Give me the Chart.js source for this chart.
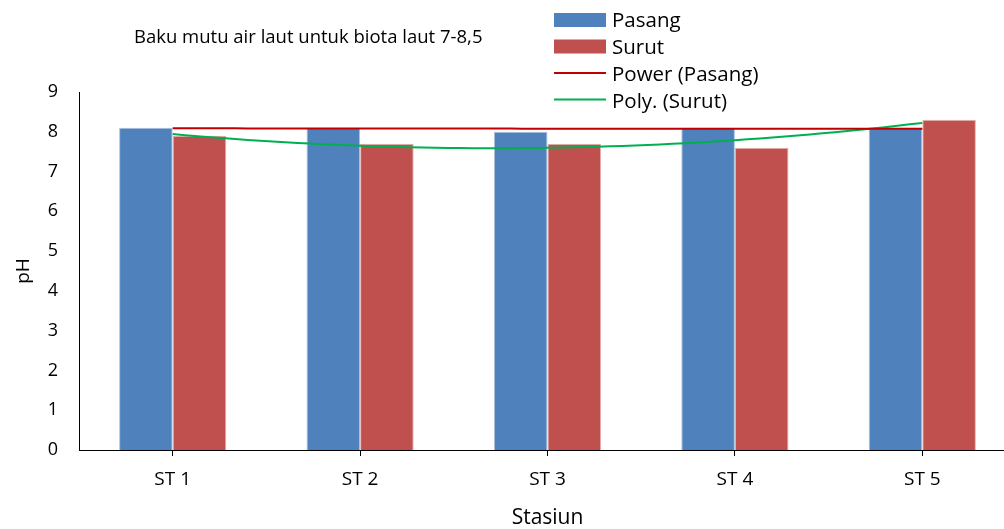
<!DOCTYPE html>
<html><head><meta charset="utf-8">
<script src="https://cdn.jsdelivr.net/npm/chart.js@4"></script>
<style>html,body{margin:0;padding:0;overflow:hidden;background:#fff}#wrap{width:1016px;height:529px}</style>
</head><body><div id="wrap"><canvas id="c" width="1016" height="529"></canvas></div>
<script>
const categories = ["ST 1","ST 2","ST 3","ST 4","ST 5"];
const pasang = [8.1, 8.1, 8.0, 8.1, 8.1];
const surut = [7.9, 7.7, 7.7, 7.6, 8.3];
const yTickMin = 0, yTickMax = 9, yTickStep = 1;
const chartTitle = "Baku mutu air laut untuk biota laut 7-8,5";
const legendLabels = ["Pasang","Surut","Power (Pasang)","Poly. (Surut)"];
const xTitle = "Stasiun", yTitle = "pH";

// power trendline y = a*x^b (least squares on logs)
function powerFit(ys){const n=ys.length;let sx=0,sy=0,sxx=0,sxy=0;for(let i=0;i<n;i++){const lx=Math.log(i+1),ly=Math.log(ys[i]);sx+=lx;sy+=ly;sxx+=lx*lx;sxy+=lx*ly;}const b=(n*sxy-sx*sy)/(n*sxx-sx*sx);const a=Math.exp((sy-b*sx)/n);return x=>a*Math.pow(x,b);}
// quadratic trendline (least squares)
function polyFit(ys){const n=ys.length;let S=[0,0,0,0,0],T=[0,0,0];for(let i=0;i<n;i++){const x=i+1;for(let k=0;k<5;k++)S[k]+=Math.pow(x,k);for(let k=0;k<3;k++)T[k]+=ys[i]*Math.pow(x,k);}
const M=[[S[0],S[1],S[2],T[0]],[S[1],S[2],S[3],T[1]],[S[2],S[3],S[4],T[2]]];
for(let c=0;c<3;c++){for(let r=c+1;r<3;r++){const f=M[r][c]/M[c][c];for(let k=c;k<4;k++)M[r][k]-=f*M[c][k];}}
const co=[0,0,0];for(let r=2;r>=0;r--){let s=M[r][3];for(let k=r+1;k<3;k++)s-=M[r][k]*co[k];co[r]=s/M[r][r];}
return x=>co[0]+co[1]*x+co[2]*x*x;}
function sample(f,n){const pts=[];for(let i=0;i<=60;i++){const x=1+(n-1)*i/60;pts.push({x:x,y:f(x)});}return pts;}
const powerLine = sample(powerFit(pasang), pasang.length);
const polyLine = sample(polyFit(surut), surut.length);
const toXY = arr => arr.map((v,i)=>({x:i+1,y:v}));

const FONT = "'Open Sans', sans-serif";
const colors = {pasang:"#4F81BD", surut:"#C0504D", power:"#C00000", poly:"#00B050"};

const overlay = {
  id:'overlay',
  afterDraw(chart){
    const ctx=chart.ctx;ctx.save();
    ctx.fillStyle="#000";ctx.textBaseline="alphabetic";ctx.textAlign="left";
    ctx.font="18.5px "+FONT;ctx.fillText(chartTitle,134,43);
    const base=[27.3,54,81,107.7];
    const mid=[20,46.5,73,99.5];
    const sw=[colors.pasang,colors.surut,colors.power,colors.poly];
    ctx.font="20.5px "+FONT;
    for(let i=0;i<4;i++){
      if(i<2){ctx.fillStyle=sw[i];ctx.fillRect(554,mid[i]-7,52,14);}
      else{ctx.strokeStyle=sw[i];ctx.lineWidth=2;ctx.beginPath();ctx.moveTo(554,mid[i]);ctx.lineTo(606,mid[i]);ctx.stroke();}
      ctx.fillStyle="#000";ctx.fillText(legendLabels[i],612,base[i]);
    }
    ctx.restore();
  }
};

new Chart(document.getElementById('c'),{
  type:'bar',
  data:{
    datasets:[
      {type:'line',label:legendLabels[2],data:powerLine,borderColor:colors.power,borderWidth:2,pointRadius:0,tension:0,order:0},
      {type:'line',label:legendLabels[3],data:polyLine,borderColor:colors.poly,borderWidth:2,pointRadius:0,tension:0,order:0},
      {type:'bar',label:legendLabels[0],data:toXY(pasang),backgroundColor:colors.pasang,borderColor:"#A9C0DE",borderWidth:1,order:1},
      {type:'bar',label:legendLabels[1],data:toXY(surut),backgroundColor:colors.surut,borderColor:"#E3B2B0",borderWidth:1,order:1}
    ]
  },
  options:{
    responsive:false,animation:false,devicePixelRatio:1,
    datasets:{bar:{categoryPercentage:0.572,barPercentage:1}},
    layout:{padding:{top:92,left:0,right:0,bottom:0}},
    plugins:{legend:{display:false},tooltip:{enabled:false},title:{display:false}},
    scales:{
      x:{type:'linear',min:0.5,max:categories.length+0.5,offset:false,
        afterBuildTicks(s){s.ticks=categories.map((c,i)=>({value:i+1}));},
        grid:{offset:false,drawOnChartArea:false,drawTicks:true,tickLength:6,color:"#000"},
        border:{color:"#000",width:1},
        ticks:{color:"#000",font:{family:FONT,size:19},padding:12,autoSkip:false,maxRotation:0,
          callback:(v)=>categories[Math.round(v)-1]},
        title:{display:true,text:xTitle,color:"#000",font:{family:FONT,size:21,lineHeight:1},padding:{top:0,bottom:0}},
        afterFit(s){s.height=79;}
      },
      y:{min:yTickMin,max:yTickMax,
        ticks:{stepSize:yTickStep,color:"#000",font:{family:FONT,size:18},padding:21},
        grid:{display:false,drawTicks:false},
        border:{color:"#000",width:1},
        title:{display:true,text:yTitle,color:"#000",font:{family:FONT,size:19},padding:{top:12,bottom:0}},
        afterFit(s){s.width=79;}
      }
    }
  },
  plugins:[overlay]
});
</script></body></html>
